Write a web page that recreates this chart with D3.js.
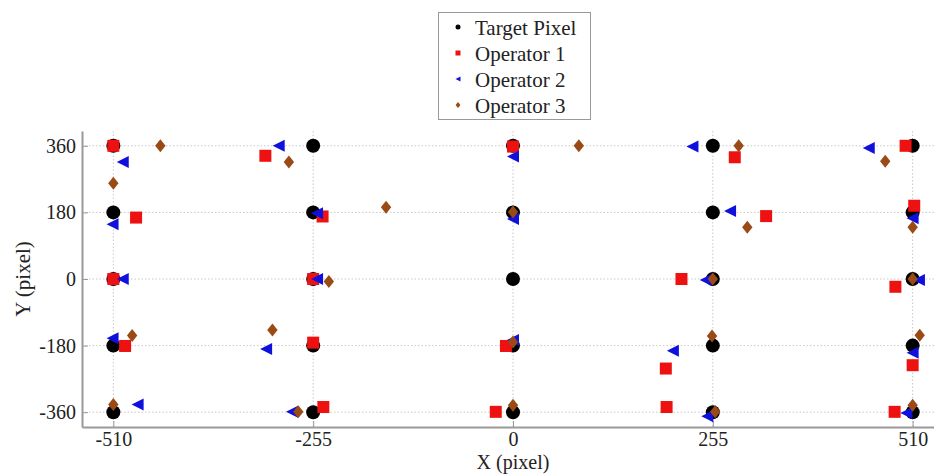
<!DOCTYPE html>
<meta charset="utf-8">
<style>
  body { margin: 0; background: #fff; }
  text { font-family: "Liberation Serif", "DejaVu Serif", serif; fill: #222; }
  .grid line { stroke: #c8c8c8; stroke-dasharray: 1.5,2; }
</style>
<svg width="934" height="475"></svg>
<script src="https://d3js.org/d3.v7.min.js"></script>
<script>
  // tick values
  var xTicks = [-510, -255, 0, 255, 510];
  var yTicks = [-360, -180, 0, 180, 360];

  // target grid (every x/y tick combination)
  var target = [];
  xTicks.forEach(function(x) { yTicks.forEach(function(y) { target.push([x, y]); }); });

  // operator estimates [x, y]
  var operator1 = [
    [-510, 360], [-481, 166], [-510, 0], [-495, -181],
    [-316, 333], [-243, 169], [-255, 0], [-255, -172], [-242, -346],
    [0, 358], [-9, -181], [-22, -359],
    [283, 329], [323, 170], [215, 0], [195, -242], [196, -346],
    [501, 360], [512, 198], [488, -21], [510, -233], [487, -359]
  ];
  var operator2 = [
    [-498, 316], [-511, 148], [-498, 0], [-511, -160], [-479, -339],
    [-299, 360], [-250, 178], [-250, 0], [-315, -189], [-282, -359],
    [0, 331], [0, 162], [0, -165],
    [229, 358], [277, 184], [246, -3], [204, -194], [248, -371],
    [454, 354], [510, 164], [518, -3], [510, -199], [502, -362]
  ];
  var operator3 = [
    [-450, 360], [-510, 259], [-486, -153], [-510, -339],
    [-286, 316], [-162, 194], [-235, -7], [-307, -138], [-274, -359],
    [84, 360], [0, 181], [0, -170], [0, -341],
    [288, 360], [299, 140], [255, 0], [254, -154], [258, -359],
    [475, 318], [510, 140], [510, 0], [519, -152], [510, -341]
  ];

  var svg = d3.select("svg");
  var pLeft = 82, pRight = 944, pTop = 131, pBottom = 427;

  var x = d3.scaleLinear().domain([-550, 550]).range([pLeft, pRight]);
  var y = d3.scaleLinear().domain([-400, 400]).range([pBottom, pTop]);

  // grid
  var grid = svg.append("g").attr("class", "grid");
  grid.selectAll(".gy").data(yTicks).enter().append("line")
    .attr("x1", pLeft).attr("x2", pRight)
    .attr("y1", function(d) { return y(d); }).attr("y2", function(d) { return y(d); });
  grid.selectAll(".gx").data(xTicks).enter().append("line")
    .attr("y1", pTop).attr("y2", pBottom)
    .attr("x1", function(d) { return x(d); }).attr("x2", function(d) { return x(d); });

  // axes, ticks pointing into the plot
  var xAxis = d3.axisBottom(x).tickValues(xTicks).tickFormat(String)
    .tickSizeInner(-6).tickSizeOuter(0).tickPadding(5);
  var yAxis = d3.axisLeft(y).tickValues(yTicks).tickFormat(String)
    .tickSizeInner(-6).tickSizeOuter(0).tickPadding(6);

  var gx = svg.append("g").attr("transform", "translate(0," + pBottom + ")").call(xAxis);
  var gy = svg.append("g").attr("transform", "translate(" + pLeft + ",0)").call(yAxis);
  [gx, gy].forEach(function(g) {
    g.select(".domain").attr("stroke", "#999").attr("stroke-width", 2);
    g.selectAll(".tick line").attr("stroke", "#999");
    g.selectAll(".tick text").style("font-size", "20px").style("font-family", "Liberation Serif").attr("fill", "#222");
  });

  svg.append("text").attr("x", x(0)).attr("y", 469).attr("text-anchor", "middle")
    .style("font-size", "20px").text("X (pixel)");
  svg.append("text").attr("transform", "translate(30," + y(0) + ") rotate(-90)")
    .attr("text-anchor", "middle").style("font-size", "21px").text("Y (pixel)");

  // marker shapes
  var tri = function(s) { return "M" + (-s / 2) + ",0L" + (s / 2) + "," + (-s / 2) + "L" + (s / 2) + "," + (s / 2) + "Z"; };
  var dia = function(s) { return "M0," + (-s / 2) + "L" + (s * 0.4) + ",0L0," + (s / 2) + "L" + (-s * 0.4) + ",0Z"; };

  var marks = svg.append("g");
  marks.selectAll(".t").data(target).enter().append("circle")
    .attr("cx", function(d) { return x(d[0]); }).attr("cy", function(d) { return y(d[1]); })
    .attr("r", 7).attr("fill", "#000");
  marks.selectAll(".o1").data(operator1).enter().append("rect")
    .attr("x", function(d) { return x(d[0]) - 6; }).attr("y", function(d) { return y(d[1]) - 6; })
    .attr("width", 12).attr("height", 12).attr("fill", "#ee1111");
  marks.selectAll(".o2").data(operator2).enter().append("path")
    .attr("transform", function(d) { return "translate(" + x(d[0]) + "," + y(d[1]) + ")"; })
    .attr("d", tri(12)).attr("fill", "#1010dd");
  marks.selectAll(".o3").data(operator3).enter().append("path")
    .attr("transform", function(d) { return "translate(" + x(d[0]) + "," + y(d[1]) + ")"; })
    .attr("d", dia(13)).attr("fill", "#9a4a14");

  // legend
  var lg = svg.append("g");
  lg.append("rect").attr("x", 438.5).attr("y", 12.5).attr("width", 152).attr("height", 107)
    .attr("fill", "#fff").attr("stroke", "#999");
  var items = ["Target Pixel", "Operator 1", "Operator 2", "Operator 3"];
  items.forEach(function(name, i) {
    var base = 35 + i * 26, cy = base - 8, cx = 458;
    if (i === 0) lg.append("circle").attr("cx", cx).attr("cy", cy).attr("r", 2.5).attr("fill", "#000");
    if (i === 1) lg.append("rect").attr("x", cx - 2.5).attr("y", cy - 2.5).attr("width", 5).attr("height", 5).attr("fill", "#ee1111");
    if (i === 2) lg.append("path").attr("transform", "translate(" + cx + "," + cy + ")").attr("d", tri(5)).attr("fill", "#1010dd");
    if (i === 3) lg.append("path").attr("transform", "translate(" + cx + "," + cy + ")").attr("d", dia(6)).attr("fill", "#9a4a14");
    lg.append("text").attr("x", 475).attr("y", base).style("font-size", "21px").text(name);
  });
</script>
